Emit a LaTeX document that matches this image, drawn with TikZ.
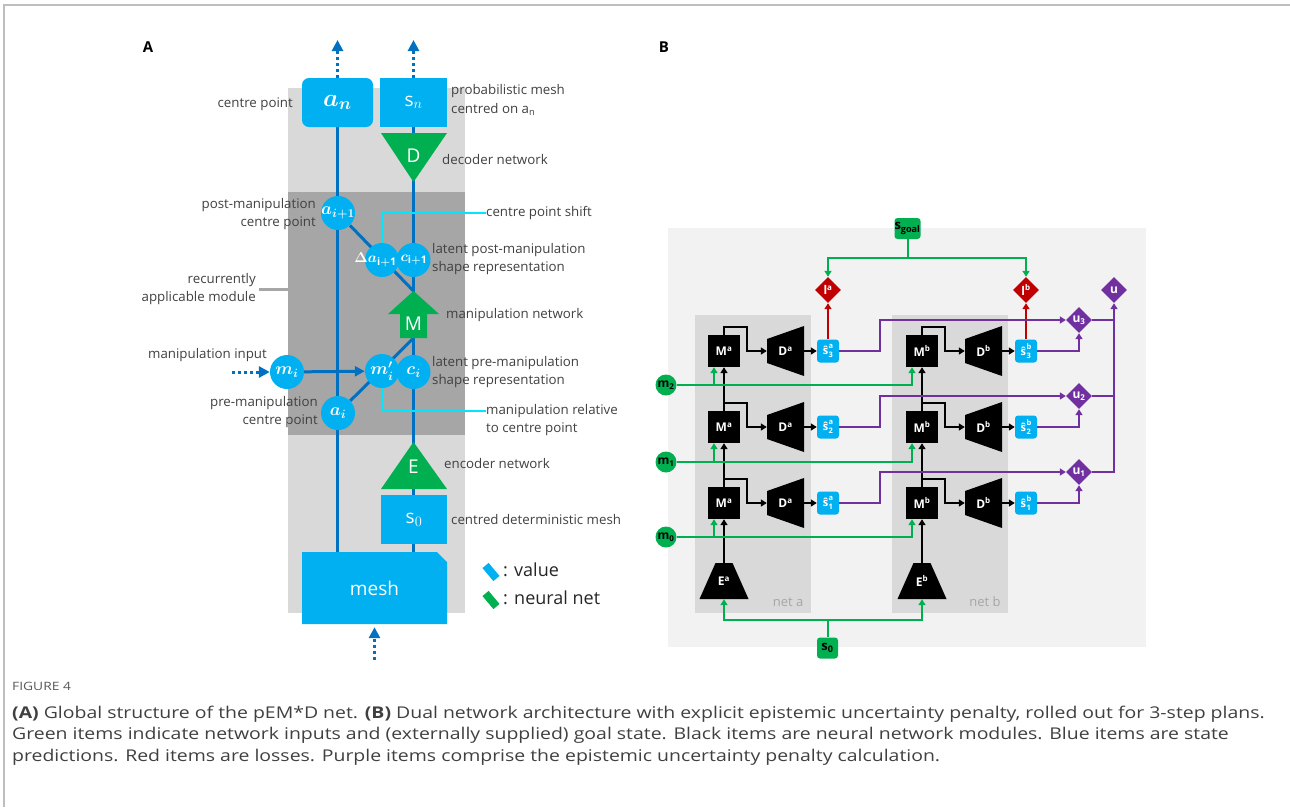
\documentclass[tikz,border=0pt]{standalone}
\usepackage{fontspec}
\setmainfont{Open Sans}
\newfontfamily\capfont[FakeStretch=1.2]{Open Sans}
\usetikzlibrary{arrows.meta,shapes.geometric,positioning,calc}
\pgfdeclarelayer{back}
\pgfdeclarelayer{wire}
\pgfsetlayers{back,wire,main}
\definecolor{valblue}{RGB}{0,176,240}
\definecolor{netgreen}{RGB}{0,176,80}
\definecolor{linkblue}{RGB}{0,112,192}
\definecolor{hintcyan}{RGB}{0,230,255}
\definecolor{lossred}{RGB}{192,0,0}
\definecolor{penpurple}{RGB}{112,48,160}
\definecolor{bglight}{RGB}{217,217,217}
\definecolor{bgdark}{RGB}{166,166,166}
\definecolor{bgpanel}{RGB}{242,242,242}
\definecolor{notegray}{RGB}{64,64,64}
\definecolor{framegray}{RGB}{190,190,190}
\newcommand{\shat}[2]{ŝ\hspace{0.5pt}\raisebox{-3pt}{\fontsize{7.5}{7}\selectfont\bfseries\shortstack[l]{#1\\#2}}}
\newcommand{\dotlbl}[1]{\makebox[0pt]{#1}}
\tikzset{
  value/.style={fill=valblue, text=white, inner sep=0pt},
  valdot/.style={value, circle, minimum size=34pt, font=\fontsize{18}{18}\selectfont\boldmath},
  netlbl/.style={text=white, inner sep=0pt, font=\fontsize{19}{19}\selectfont},
  link/.style={draw=linkblue, line width=3pt},
  linkdot/.style={link, dash pattern=on 3pt off 3pt, -{Triangle[length=11pt,width=11pt]}},
  hint/.style={draw=hintcyan, line width=2pt},
  note/.style={inner sep=0pt, text=notegray, font=\fontsize{13.3}{18.5}\selectfont},
  modbox/.style={fill=black, text=white, minimum size=32pt, inner sep=0pt, font=\fontsize{12}{12}\selectfont\bfseries},
  netbody/.style={text=white, inner sep=0pt, font=\fontsize{12}{12}\selectfont\bfseries},
  predbox/.style={fill=valblue, text=white, rounded corners=3pt, minimum width=22pt, minimum height=23pt, inner sep=0pt, font=\fontsize{11}{11}\selectfont\bfseries},
  inbox/.style={fill=netgreen, rounded corners=3pt, minimum size=21pt, inner sep=0pt, font=\fontsize{13}{13}\selectfont\bfseries},
  indot/.style={circle, fill=netgreen, minimum size=21pt, inner sep=0pt, font=\fontsize{12}{12}\selectfont\bfseries},
  lossdia/.style={diamond, fill=lossred, text=white, minimum size=26pt, inner sep=0pt, font=\fontsize{12}{12}\selectfont\bfseries},
  pendia/.style={diamond, fill=penpurple, text=white, minimum size=26pt, inner sep=0pt, font=\fontsize{12}{12}\selectfont\bfseries},
  fwd/.style={draw=black, line width=2pt, -{Triangle[length=6pt,width=7pt]}},
  feed/.style={draw=netgreen, line width=2pt, -{Triangle[length=6pt,width=7pt]}},
  pen/.style={draw=penpurple, line width=2pt, -{Triangle[length=6pt,width=7pt]}},
  loss/.style={draw=lossred, line width=2pt, -{Triangle[length=6pt,width=7pt]}},
}
\begin{document}
\begin{tikzpicture}[x=1pt, y=-1pt]
  \useasboundingbox (0,0) rectangle (1290,807);
  \begin{pgfonlayer}{back}
    \draw[framegray, line width=1.2pt] (4,807) -- (4,5) -- (1290,5);
    \fill[bglight] (288,88) rectangle (465,613);
    \node[fill=bgdark, minimum width=177pt, minimum height=243pt, anchor=north west, inner sep=0pt] (module) at (288,192) {};
    \fill[bgpanel] (668,228) rectangle (1146,647);
    \fill[bglight] (695,315) rectangle (811,613);
    \fill[bglight] (892,315) rectangle (1008,613);
  \end{pgfonlayer}

  % ---------- panel A ----------
  \node[font=\fontsize{15}{15}\selectfont\bfseries] (lblA) at (148,47) {A};

  \node[value, rounded corners=7pt, minimum width=71pt, minimum height=49pt, font=\fontsize{24}{24}\selectfont\boldmath] (an) at (337.5,102.5) {$a_n$};
  \node[value, minimum width=67pt, minimum height=49pt, font=\fontsize{19}{19}\selectfont] (sn) at (413.5,102.5) {s$_n$};
  \fill[netgreen] (381,133) -- (447,133) -- (413.5,182) -- cycle;
  \node[netlbl] (dec) at (413.5,156) {D};
  \fill[netgreen] (413.5,291) -- (439,314) -- (427,314) -- (427,338) -- (400,338) -- (400,314) -- (388,314) -- cycle;
  \node[netlbl] (man) at (413.5,324) {M};
  \fill[netgreen] (413.5,442) -- (447,489) -- (381,489) -- cycle;
  \node[netlbl] (enc) at (413.5,467) {E};
  \node[value, minimum width=66pt, minimum height=49pt, font=\fontsize{19}{19}\selectfont] (s0) at (414,519.5) {s$_0$};
  \fill[valblue] (302,552) -- (437,552) -- (447,562) -- (447,624) -- (302,624) -- cycle;
  \node[netlbl, minimum width=145pt, minimum height=72pt] (mesh) at (374.5,588) {mesh};

  \node[valdot] (ai1) at (338,213) {\dotlbl{$a_{i+1}$}};
  \node[valdot] (dai1) at (382,260) {};
  \node[valdot] (ci1) at (413.5,260) {};
  \node[valdot] (mi) at (287,372) {\dotlbl{$m_i$}};
  \node[valdot] (mip) at (382,371) {};
  \node[valdot] (ci) at (413.5,372) {};
  \node[valdot] (ai) at (338,413) {\dotlbl{$a_i$}};
  \node[valdot, fill=none, font=\fontsize{15}{15}\selectfont\boldmath] (dailbl) at (dai1) {\dotlbl{\hspace{-13pt}$\Delta a_{\mathrm{i+1}}$}};
  \node[valdot, fill=none, font=\fontsize{15}{15}\selectfont\boldmath] (ci1lbl) at (ci1) {\dotlbl{\hspace{1pt}$c_{\mathrm{i+1}}$}};
  \node[valdot, fill=none] (miplbl) at (mip) {\dotlbl{$m'_i$}};
  \node[valdot, fill=none] (cilbl) at (ci) {\dotlbl{$c_i$}};
  \coordinate (Mtop) at (413.5,291);
  \coordinate (Mbot) at (413.5,338);

  \node[note, anchor=east] (cplbl) at (293,104) {centre point};
  \node[note, anchor=west, align=left] (snlbl) at (451,100) {probabilistic mesh\\centred on a\textsubscript{n}};
  \node[note, anchor=west] (declbl) at (442,160) {decoder network};
  \node[note, anchor=east, align=right] (postlbl) at (316,214) {post-manipulation\\centre point};
  \node[note, anchor=west] (shiftlbl) at (486,213) {centre point shift};
  \node[note, anchor=west, align=left] (latpost) at (432,259) {latent post-manipulation\\shape representation};
  \node[note, anchor=east, align=right] (recur) at (256,289) {recurrently\\applicable module};
  \node[note, anchor=west] (manlbl) at (446,315) {manipulation network};
  \node[note, anchor=east] (inlbl) at (267,355) {manipulation input};
  \node[note, anchor=west, align=left] (latpre) at (432,372) {latent pre-manipulation\\shape representation};
  \node[note, anchor=east, align=right] (prelbl) at (318,412) {pre-manipulation\\centre point};
  \node[note, anchor=west, align=left] (rellbl) at (486,420) {manipulation relative\\to centre point};
  \node[note, anchor=west] (enclbl) at (444,464) {encoder network};
  \node[note, anchor=west] (s0lbl) at (451,520) {centred deterministic mesh};

  \node[fill=valblue, minimum width=8pt, minimum height=17pt, rotate=40, inner sep=0pt] (keyval) at (491,572) {};
  \node[fill=netgreen, minimum width=8pt, minimum height=17pt, rotate=40, inner sep=0pt] (keynet) at (491,600) {};
  \node[anchor=west, inner sep=0pt, text=black!85, font=\fontsize{18}{18}\selectfont] (keyvaltxt) at (503,570) {: value};
  \node[anchor=west, inner sep=0pt, text=black!85, font=\fontsize{18}{18}\selectfont] (keynettxt) at (503,598) {: neural net};

  \coordinate (antip) at (337.5,40);
  \coordinate (sntip) at (413.5,40);
  \coordinate (meshin) at (374.5,660);
  \coordinate (miin) at (232,372);

  \begin{pgfonlayer}{wire}
    \draw[link] (mesh.north -| an.south) -- (an.south);
    \draw[link] (mesh.north -| sn.south) -- (sn.south);
    \draw[link] (ai1) -- (Mtop);
    \draw[link] (ai) -- (Mbot);
    \draw[link, -{Triangle[length=10pt,width=10pt]}] (mi) -- (mip);
    \draw[hint] (dai1.north) |- (shiftlbl.west);
    \draw[hint] (mip.south) |- ([yshift=9pt]rellbl.west);
    \draw[draw=bgdark, line width=3pt] ([xshift=3pt]recur.east) -- (recur.east -| module.west);
  \end{pgfonlayer}
  \draw[linkdot] (an.north) -- (antip);
  \draw[linkdot] (sn.north) -- (sntip);
  \draw[linkdot] (meshin) -- ([yshift=-3pt]mesh.south);
  \draw[linkdot] (miin) -- (mi.west);

  % ---------- panel B ----------
  \node[font=\fontsize{15}{15}\selectfont\bfseries] (lblB) at (664,47) {B};
  \node[text=bgdark, inner sep=0pt, font=\fontsize{13}{13}\selectfont] (neta) at (788,602) {net a};
  \node[text=bgdark, inner sep=0pt, font=\fontsize{13}{13}\selectfont] (netb) at (985,602) {net b};

  \foreach \n/\x in {a/724,b/922} {
    \foreach \r/\y in {1/503,2/427,3/351} {
      \node[modbox] (M\n\r) at (\x,\y) {M\textsuperscript{\n}};
      \fill[black] ({\x+43},{\y-12}) -- ({\x+80},{\y-25}) -- ({\x+80},{\y+25}) -- ({\x+43},{\y+12}) -- cycle;
      \node[netbody, minimum width=37pt, minimum height=24pt] (D\n\r) at ({\x+61.5},\y) {D\textsuperscript{\n}};
      \node[predbox] (s\n\r) at ({\x+104},\y) {\shat{\n}{\r}};
    }
    \fill[black] ({\x-8.5},563) -- ({\x+8.5},563) -- ({\x+24.5},599) -- ({\x-24.5},599) -- cycle;
    \node[netbody, minimum width=17pt, minimum height=36pt] (E\n) at (\x,581) {\raisebox{-5pt}{E\textsuperscript{\n}}};
  }

  \node[inbox] (sgoal) at (907.5,228.5) {s\textsubscript{goal}};
  \node[inbox] (sinit) at (827.5,648) {s\textsubscript{0}};
  \node[lossdia] (la) at (828,290) {l\textsuperscript{a}};
  \node[lossdia] (lb) at (1026,290) {l\textsuperscript{b}};
  \node[pendia] (u) at (1114,290) {u};
  \foreach \k/\r/\y in {0/1/537,1/2/462,2/3/385} {
    \node[indot] (m\k) at (666,\y) {m\textsubscript{\k}};
  }
  \foreach \r/\y in {1/503,2/427,3/351} {
    \node[pendia] (u\r) at (1079,{\y-31}) {u\textsubscript{\r}};
  }
  \coordinate (goalfork) at (907.5,258);
  \coordinate (initfork) at (827.5,620);

  \begin{pgfonlayer}{wire}
    \foreach \n in {a,b} {
      \draw[fwd] (E\n.north) -- (M\n1.south);
      \draw[fwd] (M\n1.north) -- (M\n2.south);
      \draw[fwd] (M\n2.north) -- (M\n3.south);
      \foreach \r in {1,2,3} {
        \draw[fwd] (M\n\r.north) -- ++(0,-8) -- ++(23,0) |- (D\n\r.west);
        \draw[fwd] (D\n\r.east) -- (s\n\r.west);
        \coordinate (f\n\r) at ([xshift=-10pt]M\n\r.south);
      }
      \draw[feed] (initfork) -| (E\n.south);
    }
    \foreach \k/\r in {0/1,1/2,2/3} {
      \draw[feed] (m\k.east) -| (fb\r);
      \draw[feed] (fa\r |- m\k.east) -- (fa\r);
    }
    \draw[draw=netgreen, line width=2pt] (sinit.north) -- (initfork);
    \draw[draw=netgreen, line width=2pt] (sgoal.south) -- (goalfork);
    \draw[feed] (goalfork) -| (la.north);
    \draw[feed] (goalfork) -| (lb.north);
    \draw[loss] (sa3.north) -- (la.south);
    \draw[loss] (sb3.north) -- (lb.south);
    \foreach \r/\y in {1/503,2/427,3/351} {
      \draw[pen] (sa\r.east) -- (880,\y) |- (u\r.west);
      \draw[pen] (sb\r.east) -| (u\r.south);
    }
    \draw[pen] (u1.east) -| (u.south);
    \draw[draw=penpurple, line width=2pt] (u2.east) -- (u2.east -| u.south);
    \draw[draw=penpurple, line width=2pt] (u3.east) -- (u3.east -| u.south);
  \end{pgfonlayer}

  % ---------- caption ----------
  \node[anchor=west, inner sep=0pt, text=black!65, font=\capfont\fontsize{11.5}{11.5}\selectfont] (figno) at (12,686) {FIGURE 4};
  \node[anchor=north west, align=left, inner sep=0pt, text=black!75, font=\capfont\fontsize{16.2}{21.3}\selectfont] (caption) at (12,706) {\textbf{(A)} Global structure of the pEM*D net. \textbf{(B)} Dual network architecture with explicit epistemic uncertainty penalty, rolled out for 3-step plans.\\Green items indicate network inputs and (externally supplied) goal state. Black items are neural network modules. Blue items are state\\predictions. Red items are losses. Purple items comprise the epistemic uncertainty penalty calculation.};
\end{tikzpicture}
\end{document}
